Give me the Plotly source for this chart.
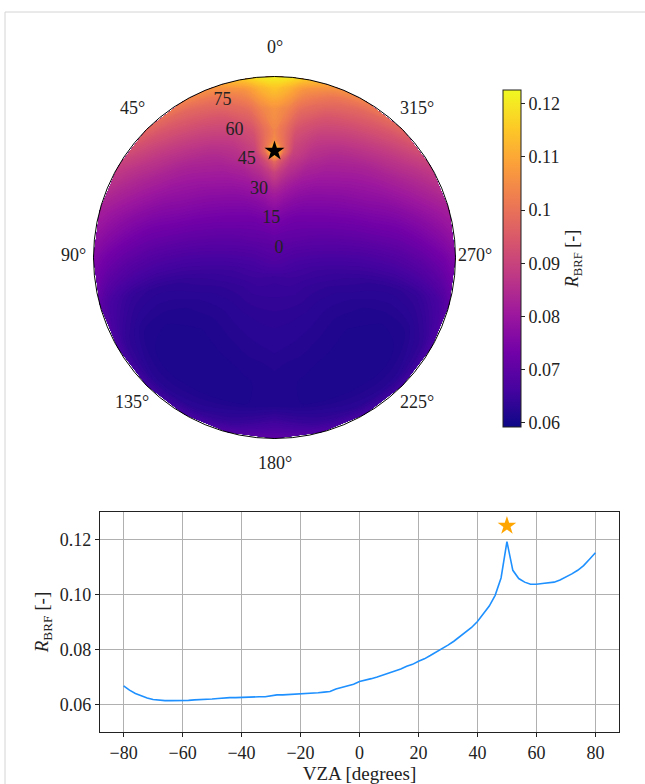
import math
import plotly.graph_objects as go

W, H = 645, 784
FONT = "Liberation Serif"
INK = "#222222"


def px(x):
    return x / W


def py(y):
    return 1 - y / H


# ---- sky map: BRF on a (viewing azimuth, viewing zenith) grid ----
vza_grid = [0, 10, 20, 30, 40, 45, 50, 55, 60, 70, 80, 85]
vaa_half = [0, 5, 10, 20, 30, 45, 60, 75, 90, 105, 120, 135, 150, 165, 180]
brf_half = [
    [0.0684, 0.0713, 0.0757, 0.0816, 0.0902, 0.0980, 0.1192, 0.1050, 0.1037, 0.1063, 0.1152, 0.1215],
    [0.0684, 0.0712, 0.0754, 0.0808, 0.0875, 0.0920, 0.1000, 0.0990, 0.0990, 0.1035, 0.1120, 0.1200],
    [0.0684, 0.0710, 0.0748, 0.0795, 0.0850, 0.0875, 0.0900, 0.0915, 0.0930, 0.0985, 0.1065, 0.1150],
    [0.0684, 0.0707, 0.0738, 0.0775, 0.0815, 0.0835, 0.0855, 0.0870, 0.0890, 0.0940, 0.1010, 0.1070],
    [0.0684, 0.0704, 0.0728, 0.0760, 0.0795, 0.0812, 0.0828, 0.0845, 0.0865, 0.0918, 0.0980, 0.1035],
    [0.0684, 0.0699, 0.0717, 0.0742, 0.0770, 0.0785, 0.0800, 0.0815, 0.0832, 0.0878, 0.0935, 0.0975],
    [0.0684, 0.0690, 0.0703, 0.0720, 0.0742, 0.0755, 0.0768, 0.0780, 0.0794, 0.0830, 0.0868, 0.0890],
    [0.0684, 0.0681, 0.0686, 0.0695, 0.0708, 0.0716, 0.0725, 0.0733, 0.0742, 0.0770, 0.0803, 0.0820],
    [0.0684, 0.0673, 0.0668, 0.0667, 0.0669, 0.0672, 0.0676, 0.0681, 0.0688, 0.0708, 0.0738, 0.0760],
    [0.0684, 0.0665, 0.0653, 0.0645, 0.0638, 0.0635, 0.0633, 0.0632, 0.0633, 0.0642, 0.0668, 0.0700],
    [0.0684, 0.0660, 0.0645, 0.0632, 0.0624, 0.0620, 0.0617, 0.0615, 0.0614, 0.0617, 0.0638, 0.0672],
    [0.0684, 0.0656, 0.0640, 0.0628, 0.0619, 0.0615, 0.0612, 0.0610, 0.0608, 0.0608, 0.0625, 0.0660],
    [0.0684, 0.0652, 0.0640, 0.0629, 0.0621, 0.0617, 0.0614, 0.0611, 0.0609, 0.0609, 0.0628, 0.0665],
    [0.0684, 0.0649, 0.0639, 0.0630, 0.0624, 0.0621, 0.0617, 0.0614, 0.0612, 0.0611, 0.0642, 0.0682],
    [0.0684, 0.0647, 0.0639, 0.0631, 0.0626, 0.0624, 0.0620, 0.0618, 0.0616, 0.0618, 0.0668, 0.0700],
]
# the field is symmetric about the principal plane; the azimuth runs -180..180
# so that the hotspot ridge sits inside the grid rather than on its seam
vaa_full = [-v for v in reversed(vaa_half[1:])] + vaa_half
brf_full = [row for row in reversed(brf_half[1:])] + brf_half

hotspot_vza = [50]
hotspot_vaa = [0]

# ---- principal-plane cut ----
vza_line = [-80, -78, -76, -74, -72, -70, -68, -66, -64, -62, -60, -58, -56, -54, -52, -50,
            -48, -46, -44, -42, -40, -38, -36, -34, -32, -30, -28, -26, -24, -22, -20, -18,
            -16, -14, -12, -10, -8, -6, -4, -2, 0, 2, 4, 6, 8, 10, 12, 14, 16, 18, 20, 22,
            24, 26, 28, 30, 32, 34, 36, 38, 40, 42, 44, 46, 48, 50, 52, 54, 56, 58, 60, 62,
            64, 66, 68, 70, 72, 74, 76, 78, 80]
brf_line = [0.0668, 0.0652, 0.0640, 0.0631, 0.0624, 0.0618, 0.0615, 0.0614, 0.0614, 0.0614,
            0.0616, 0.0615, 0.0617, 0.0618, 0.0617, 0.0620, 0.0622, 0.0624, 0.0625, 0.0625,
            0.0626, 0.0628, 0.0628, 0.0628, 0.0628, 0.0631, 0.0635, 0.0635, 0.0636, 0.0637,
            0.0639, 0.0639, 0.0641, 0.0643, 0.0645, 0.0647, 0.0656, 0.0662, 0.0667, 0.0674,
            0.0684, 0.0688, 0.0694, 0.0700, 0.0707, 0.0713, 0.0720, 0.0729, 0.0739, 0.0746,
            0.0757, 0.0766, 0.0778, 0.0790, 0.0803, 0.0816, 0.0830, 0.0846, 0.0862, 0.0880,
            0.0902, 0.0928, 0.0958, 0.0997, 0.1060, 0.1192, 0.1088, 0.1058, 0.1045, 0.1037,
            0.1037, 0.1040, 0.1042, 0.1045, 0.1053, 0.1063, 0.1075, 0.1088, 0.1105, 0.1128,
            0.1152]
peak_marker_x = [50]
peak_marker_y = [0.125]

cbar_vals = [0.06, 0.07, 0.08, 0.09, 0.10, 0.11, 0.12]
cbar_text = ["0.06", "0.07", "0.08", "0.09", "0.1", "0.11", "0.12"]
ang_vals = [0, 45, 90, 135, 180, 225, 270, 315]
rad_vals = [0, 15, 30, 45, 60, 75]
RADIAL_LABEL_VAA = 22.5
cmin, cmax = 0.0592, 0.1226
R_MAX = 85

# sky-map geometry (pixels)
CX, CY, RAD = 274.5, 257.5, 181.0
sky_x = [px(CX - RAD), px(CX + RAD)]
sky_y = [py(CY + RAD), py(CY - RAD)]

# carpet nodes: azimuth counter-clockwise from the top of the disc
X = [[-r * math.sin(math.radians(b)) for r in vza_grid] for b in vaa_full]
Y = [[r * math.cos(math.radians(b)) for r in vza_grid] for b in vaa_full]

hidden_cax = dict(showgrid=False, showline=False, showticklabels="none", startline=False,
                  endline=False, minorgridcount=0, smoothing=0)

# contour levels offset so no level coincides with a tabulated value
LEVEL_START, LEVEL_STEP = 0.059173, 0.000537

tick_font = dict(family=FONT, size=18, color=INK)

fig = go.Figure()
fig.add_trace(go.Carpet(a=vza_grid, b=vaa_full, x=X, y=Y, carpet="sky",
                        aaxis=hidden_cax, baxis=hidden_cax, xaxis="x", yaxis="y"))
fig.add_trace(go.Contourcarpet(
    a=vza_grid, b=vaa_full, z=brf_full, carpet="sky", xaxis="x", yaxis="y",
    colorscale="Plasma", zmin=cmin, zmax=cmax, autocontour=False,
    contours=dict(start=LEVEL_START, end=cmax, size=LEVEL_STEP, coloring="fill",
                  showlines=False),
    line=dict(width=0), showscale=False))

# colour bar
fig.add_trace(go.Scatter(
    x=[None], y=[None], mode="markers", xaxis="x", yaxis="y", showlegend=False,
    marker=dict(colorscale="Plasma", cmin=cmin, cmax=cmax, color=[cmin], showscale=True,
                colorbar=dict(
                    x=px(503), xanchor="left", xpad=0, ypad=0,
                    y=py(258.5), yanchor="middle",
                    thickness=18, thicknessmode="pixels", len=337, lenmode="pixels",
                    outlinewidth=1, outlinecolor=INK,
                    tickmode="array", tickvals=cbar_vals, ticktext=cbar_text,
                    ticks="outside", ticklen=4, tickcolor=INK,
                    tickfont=tick_font,
                    title=dict(text="<i>R</i><sub>BRF</sub> [-]", side="right",
                               font=tick_font)))))

# zenith-angle labels along the 22.5° azimuth
fig.add_trace(go.Scatterpolar(r=rad_vals, theta=[RADIAL_LABEL_VAA] * len(rad_vals),
                              mode="text", text=[str(v) for v in rad_vals],
                              textposition="top right", textfont=tick_font, subplot="polar",
                              showlegend=False, hoverinfo="skip"))

# hotspot star on the sky map
fig.add_trace(go.Scatterpolar(r=hotspot_vza, theta=hotspot_vaa, mode="markers", subplot="polar",
                              marker=dict(symbol="star", size=15, color="black"),
                              showlegend=False, hoverinfo="skip"))

# principal-plane curve
fig.add_trace(go.Scatter(x=vza_line, y=brf_line, mode="lines", xaxis="x2", yaxis="y2",
                         line=dict(color="#1e90ff", width=1.6), showlegend=False))
fig.add_trace(go.Scatter(x=peak_marker_x, y=peak_marker_y, mode="markers", xaxis="x2", yaxis="y2",
                         marker=dict(symbol="star", size=14, color="#ffa500"), showlegend=False))

# azimuth labels set just outside the rim (wider gap above/below than at the sides)
GAP_X, GAP_Y, LIFT = 20, 27, 2.5
azimuth_labels = [
    dict(text=f"{v}°", xref="paper", yref="paper", showarrow=False,
         x=px(CX - (RAD + GAP_X) * math.sin(math.radians(v))),
         y=py(CY - (RAD + GAP_Y) * math.cos(math.radians(v)) - LIFT),
         xanchor="center", yanchor="middle", font=tick_font)
    for v in ang_vals
]

bottom_axis = dict(showgrid=True, gridcolor="#b0b0b0", gridwidth=1, zeroline=False,
                   showline=True, mirror=True, linecolor=INK, linewidth=1.2,
                   ticks="outside", ticklen=4, tickcolor=INK, tickfont=tick_font)

fig.update_layout(
    width=W, height=H, autosize=False,
    margin=dict(l=0, r=0, t=0, b=0),
    paper_bgcolor="white", plot_bgcolor="rgba(0,0,0,0)",
    font=dict(family=FONT, size=18, color=INK),
    showlegend=False,
    xaxis=dict(domain=sky_x, range=[-R_MAX, R_MAX], visible=False, anchor="y"),
    yaxis=dict(domain=sky_y, range=[-R_MAX, R_MAX], visible=False, anchor="x"),
    polar=dict(
        domain=dict(x=sky_x, y=sky_y),
        bgcolor="rgba(0,0,0,0)",
        angularaxis=dict(rotation=90, direction="counterclockwise", tickmode="array",
                         tickvals=ang_vals, showticklabels=False,
                         showgrid=False, showline=True, linecolor="black", linewidth=1,
                         ticks=""),
        radialaxis=dict(range=[0, R_MAX], tickmode="array", tickvals=rad_vals,
                        showticklabels=False, showgrid=False, showline=False, ticks=""),
    ),
    xaxis2=dict(domain=[px(100), px(619)], range=[-88, 88], anchor="y2",
                tickmode="array", tickvals=[-80, -60, -40, -20, 0, 20, 40, 60, 80],
                title=dict(text="VZA [degrees]", standoff=4,
                           font=dict(family=FONT, size=19, color=INK)),
                **bottom_axis),
    yaxis2=dict(domain=[py(732), py(512)], range=[0.05, 0.13], anchor="x2",
                tickmode="array", tickvals=[0.06, 0.08, 0.10, 0.12], tickformat=".2f",
                title=dict(text="<i>R</i><sub>BRF</sub> [-]", standoff=6,
                           font=dict(family=FONT, size=19, color=INK)),
                **bottom_axis),
    annotations=azimuth_labels,
    shapes=[
        dict(type="line", xref="paper", yref="paper", x0=px(5), x1=1, y0=py(12), y1=py(12),
             line=dict(color="#d4d4d4", width=1)),
        dict(type="line", xref="paper", yref="paper", x0=px(5), x1=px(5), y0=py(12), y1=0,
             line=dict(color="#d4d4d4", width=1)),
    ],
)

fig.write_html("out.html")
